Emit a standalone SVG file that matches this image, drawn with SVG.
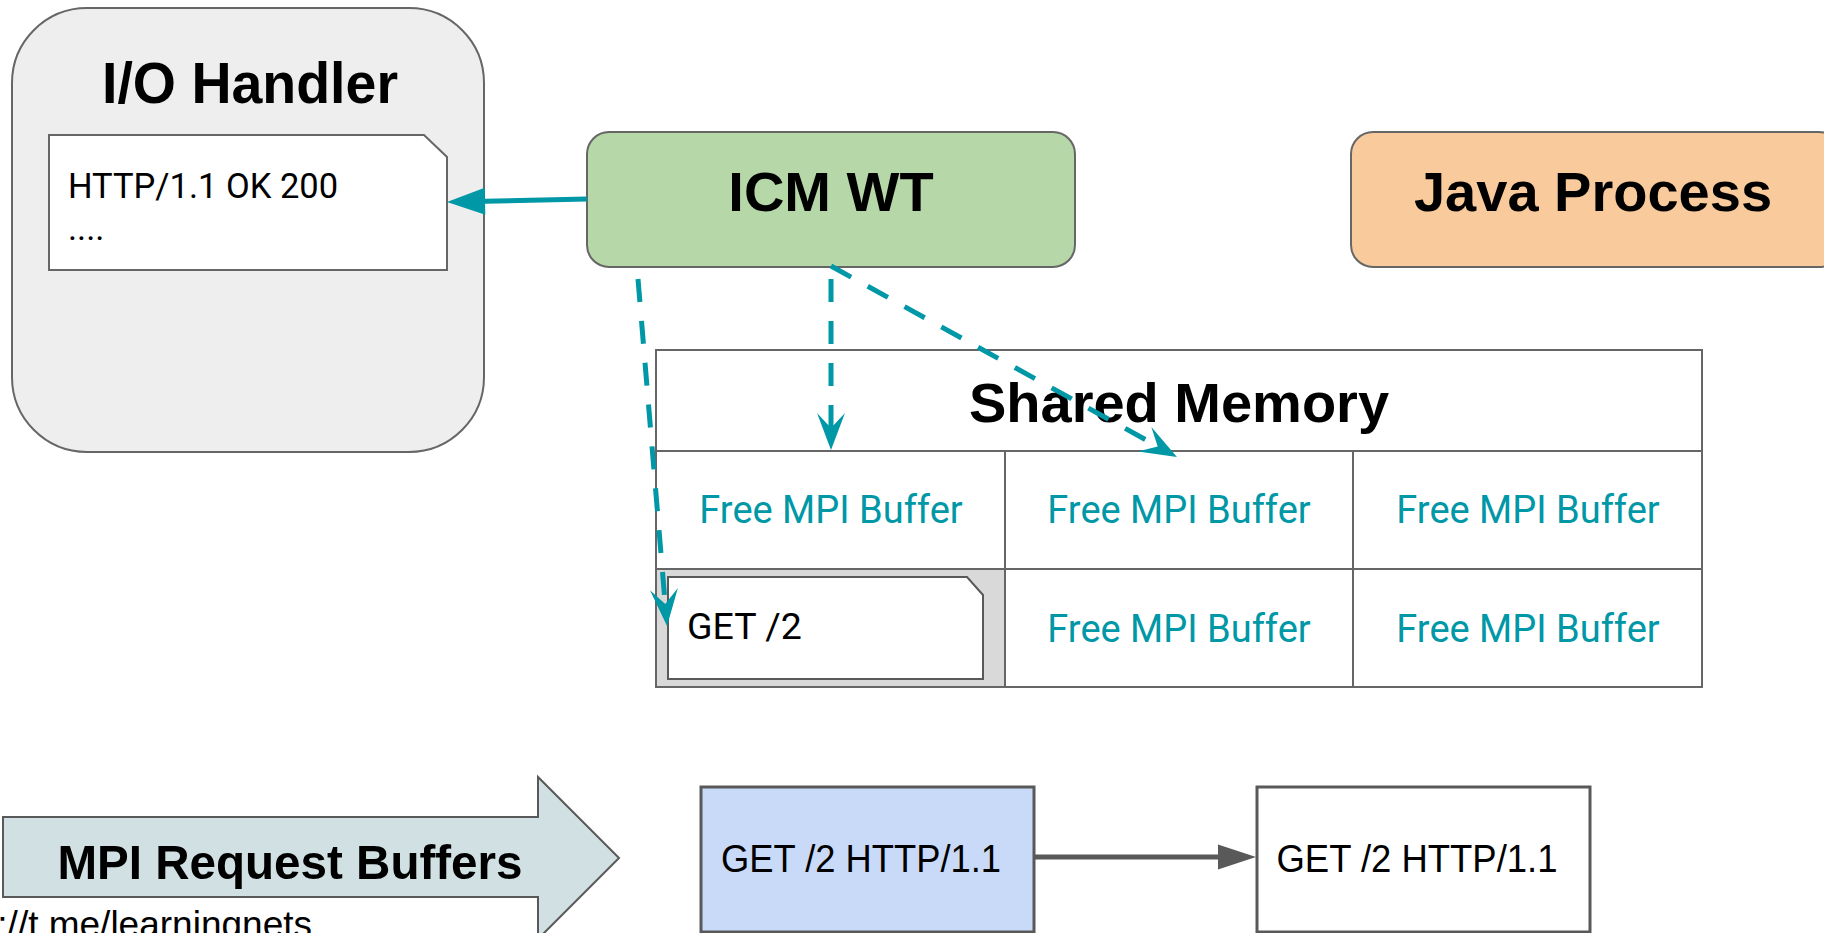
<svg xmlns="http://www.w3.org/2000/svg" width="1824" height="933" viewBox="0 0 1824 933">
<style>
.box{stroke:#666666;stroke-width:2}
.title{font-family:"Liberation Sans",Arial,sans-serif;font-weight:bold;fill:#000;text-anchor:middle}
.rob{font-family:Roboto,"Liberation Sans",sans-serif;fill:#000}
.free{font-family:Roboto,"Liberation Sans",sans-serif;fill:#0097a7;font-size:38px;text-anchor:middle}
.grid{stroke:#666666;stroke-width:2;fill:none}
.teal{stroke:#0097a7;stroke-width:5;fill:none}
.dash{stroke-dasharray:23 19}
.lab{font-family:"Liberation Sans",Arial,sans-serif;font-size:38px;fill:#000;text-anchor:middle}
</style>
<defs>
<marker id="tri" markerUnits="userSpaceOnUse" markerWidth="40" markerHeight="30" refX="0" refY="0" orient="auto" overflow="visible">
<path d="M0,-13.5 L38,0 L0,13.5 Z" fill="#0097a7"/>
</marker>
<marker id="stealth" markerUnits="userSpaceOnUse" markerWidth="40" markerHeight="30" refX="15" refY="0" orient="auto" overflow="visible">
<path d="M0,-14 L37,0 L0,14 L15,0 Z" fill="#0097a7"/>
</marker>
<marker id="gtri" markerUnits="userSpaceOnUse" markerWidth="40" markerHeight="30" refX="0" refY="0" orient="auto" overflow="visible">
<path d="M0,-12.5 L38,0 L0,12.5 Z" fill="#595959"/>
</marker>
</defs>
<rect width="1824" height="933" fill="#ffffff"/>

<g id="io-handler">
<rect class="box" x="12" y="8" width="472" height="444" rx="75" ry="75" fill="#eeeeee"/>
<text class="title" x="250" y="103" font-size="57" textLength="296" lengthAdjust="spacingAndGlyphs">I/O Handler</text>
<polygon class="box" points="49,135 424,135 447,157 447,270 49,270" fill="#ffffff"/>
<text class="rob" x="68" y="198" font-size="34.5">HTTP/1.1 OK 200</text>
<text class="rob" x="68" y="240" font-size="34.5">....</text>
</g>

<g id="icm-wt">
<rect class="box" x="587" y="132" width="488" height="135" rx="22" ry="22" fill="#b6d7a8"/>
<text class="title" x="831" y="211" font-size="56">ICM WT</text>
</g>

<g id="java-process">
<rect class="box" x="1351" y="132" width="490" height="135" rx="22" ry="22" fill="#f9cb9c"/>
<text class="title" x="1593" y="211" font-size="56">Java Process</text>
</g>

<g id="shared-memory">
<rect x="656" y="569" width="349" height="118" fill="#d9d9d9"/>
<rect class="grid" x="656" y="350" width="1046" height="337"/>
<line class="grid" x1="656" y1="451" x2="1702" y2="451"/>
<line class="grid" x1="656" y1="569" x2="1702" y2="569"/>
<line class="grid" x1="1005" y1="451" x2="1005" y2="687"/>
<line class="grid" x1="1353" y1="451" x2="1353" y2="687"/>
<text class="title" x="1179" y="422" font-size="56">Shared Memory</text>
<text class="free" x="831" y="523">Free MPI Buffer</text>
<text class="free" x="1179" y="523">Free MPI Buffer</text>
<text class="free" x="1528" y="523">Free MPI Buffer</text>
<text class="free" x="1179" y="642">Free MPI Buffer</text>
<text class="free" x="1528" y="642">Free MPI Buffer</text>
<g id="get2-buffer">
<polygon points="668,577 967,577 983,595 983,679 668,679" fill="#ffffff" stroke="#595959" stroke-width="2"/>
<text class="rob" x="687" y="639" font-size="37.5">GET /2</text>
</g>
</g>

<g id="mpi-request-buffers">
<polygon points="3,817 538,817 538,777 619,858 538,939 538,897 3,897" fill="#d0e0e3" stroke="#595959" stroke-width="2"/>
<text class="title" x="290" y="879" font-size="49" textLength="465" lengthAdjust="spacingAndGlyphs">MPI Request Buffers</text>
</g>

<g id="url">
<text x="312" y="937" font-family="Liberation Sans, Arial, sans-serif" font-size="37" fill="#000" text-anchor="end">https://t.me/learningnets</text>
</g>

<g id="request-1">
<rect x="701" y="787" width="333" height="145" fill="#c9daf8" stroke="#595959" stroke-width="3"/>
<text class="lab" x="861" y="872" textLength="280" lengthAdjust="spacingAndGlyphs">GET /2 HTTP/1.1</text>
</g>

<g id="request-2">
<rect x="1257" y="787" width="333" height="145" fill="#ffffff" stroke="#595959" stroke-width="3"/>
<text class="lab" x="1417" y="872" textLength="281" lengthAdjust="spacingAndGlyphs">GET /2 HTTP/1.1</text>
</g>

<g id="connectors">
<path class="teal" d="M587,199 L485,201.2" marker-end="url(#tri)"/>
<path class="teal dash" d="M638,279 L665.2,604.1" marker-end="url(#stealth)"/>
<path class="teal dash" d="M831,279 L831,428" marker-end="url(#stealth)"/>
<path class="teal dash" d="M831,266 L1157.7,446.4" marker-end="url(#stealth)"/>
<path d="M1034,857 L1218,857" stroke="#595959" stroke-width="5" fill="none" marker-end="url(#gtri)"/>
</g>
</svg>
